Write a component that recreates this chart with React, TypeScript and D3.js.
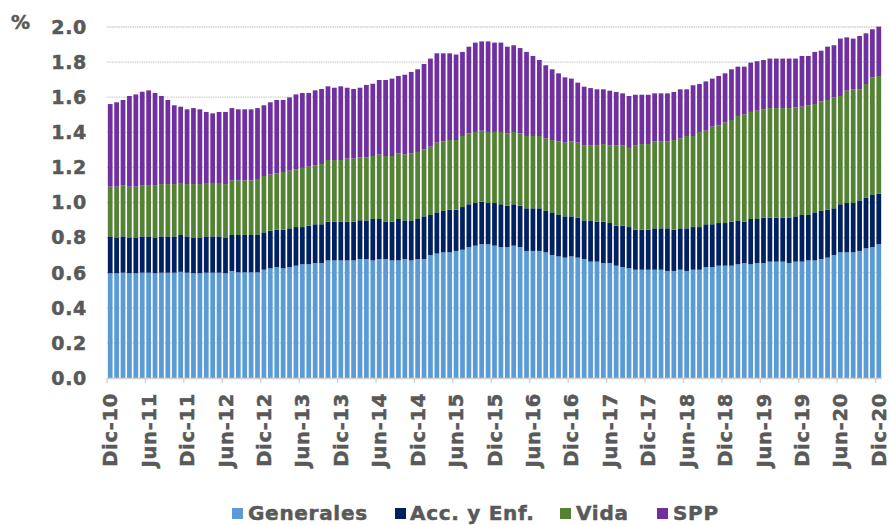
import React from "react";
import * as d3 from "d3";

const generales = [
  0.597, 0.597, 0.600, 0.597, 0.597, 0.600, 0.600, 0.597, 0.600, 0.600, 0.600, 0.605, 0.600, 0.597, 0.597, 0.600, 0.600, 0.600, 0.597, 0.610,
  0.602, 0.602, 0.602, 0.602, 0.617, 0.625, 0.632, 0.625, 0.632, 0.640, 0.648, 0.648, 0.655, 0.655, 0.670, 0.670, 0.670, 0.670, 0.670, 0.678,
  0.678, 0.670, 0.678, 0.678, 0.670, 0.670, 0.678, 0.670, 0.678, 0.678, 0.701, 0.709, 0.716, 0.716, 0.724, 0.731, 0.746, 0.754, 0.762, 0.762,
  0.754, 0.746, 0.746, 0.754, 0.746, 0.724, 0.724, 0.724, 0.716, 0.701, 0.693, 0.686, 0.693, 0.686, 0.678, 0.663, 0.663, 0.655, 0.655, 0.640,
  0.632, 0.625, 0.617, 0.617, 0.617, 0.617, 0.617, 0.610, 0.610, 0.617, 0.610, 0.617, 0.617, 0.632, 0.632, 0.640, 0.640, 0.640, 0.648, 0.655,
  0.648, 0.655, 0.655, 0.663, 0.663, 0.663, 0.655, 0.663, 0.663, 0.670, 0.670, 0.678, 0.686, 0.701, 0.716, 0.716, 0.716, 0.724, 0.739, 0.746, 0.762,
];

const accEnf = [
  0.210, 0.204, 0.207, 0.204, 0.204, 0.207, 0.207, 0.204, 0.207, 0.207, 0.207, 0.210, 0.207, 0.204, 0.204, 0.207, 0.207, 0.207, 0.204, 0.205,
  0.213, 0.213, 0.213, 0.213, 0.213, 0.214, 0.213, 0.220, 0.221, 0.220, 0.212, 0.220, 0.221, 0.221, 0.221, 0.221, 0.221, 0.221, 0.221, 0.221,
  0.220, 0.236, 0.228, 0.213, 0.221, 0.236, 0.220, 0.228, 0.228, 0.243, 0.228, 0.235, 0.236, 0.243, 0.235, 0.243, 0.244, 0.243, 0.243, 0.235,
  0.243, 0.244, 0.236, 0.236, 0.236, 0.243, 0.243, 0.243, 0.236, 0.243, 0.236, 0.235, 0.228, 0.228, 0.220, 0.235, 0.228, 0.236, 0.228, 0.228,
  0.236, 0.235, 0.228, 0.228, 0.228, 0.236, 0.236, 0.243, 0.235, 0.236, 0.243, 0.243, 0.243, 0.244, 0.244, 0.243, 0.243, 0.251, 0.250, 0.236,
  0.258, 0.251, 0.259, 0.251, 0.251, 0.251, 0.259, 0.258, 0.266, 0.259, 0.274, 0.274, 0.273, 0.266, 0.274, 0.281, 0.281, 0.288, 0.289, 0.297, 0.288,
];

const vida = [
  0.283, 0.289, 0.289, 0.289, 0.289, 0.289, 0.289, 0.295, 0.298, 0.298, 0.298, 0.296, 0.298, 0.304, 0.304, 0.304, 0.304, 0.304, 0.304, 0.311,
  0.311, 0.311, 0.311, 0.319, 0.321, 0.320, 0.321, 0.329, 0.328, 0.329, 0.337, 0.336, 0.336, 0.343, 0.351, 0.351, 0.351, 0.359, 0.359, 0.358,
  0.359, 0.359, 0.367, 0.374, 0.374, 0.374, 0.375, 0.382, 0.382, 0.382, 0.389, 0.397, 0.397, 0.397, 0.397, 0.405, 0.404, 0.405, 0.404, 0.405,
  0.405, 0.412, 0.412, 0.412, 0.412, 0.412, 0.412, 0.412, 0.412, 0.412, 0.420, 0.420, 0.428, 0.427, 0.428, 0.428, 0.435, 0.442, 0.443, 0.458,
  0.458, 0.451, 0.481, 0.488, 0.488, 0.496, 0.496, 0.496, 0.511, 0.511, 0.526, 0.519, 0.542, 0.533, 0.556, 0.557, 0.572, 0.579, 0.595, 0.610,
  0.610, 0.617, 0.617, 0.624, 0.624, 0.624, 0.624, 0.621, 0.617, 0.625, 0.617, 0.624, 0.625, 0.632, 0.617, 0.640, 0.648, 0.633, 0.647, 0.670, 0.671,
];

const spp = [
  0.471, 0.481, 0.488, 0.517, 0.526, 0.535, 0.543, 0.528, 0.502, 0.479, 0.449, 0.435, 0.426, 0.433, 0.426, 0.405, 0.397, 0.405, 0.411, 0.412,
  0.405, 0.405, 0.405, 0.404, 0.403, 0.412, 0.418, 0.410, 0.418, 0.427, 0.427, 0.420, 0.427, 0.428, 0.420, 0.412, 0.420, 0.404, 0.397, 0.397,
  0.413, 0.412, 0.425, 0.433, 0.441, 0.441, 0.455, 0.464, 0.471, 0.486, 0.502, 0.509, 0.501, 0.494, 0.487, 0.479, 0.494, 0.509, 0.509, 0.516,
  0.509, 0.509, 0.494, 0.494, 0.486, 0.479, 0.456, 0.433, 0.418, 0.403, 0.387, 0.372, 0.357, 0.342, 0.334, 0.326, 0.319, 0.312, 0.311, 0.304,
  0.296, 0.296, 0.288, 0.281, 0.281, 0.273, 0.273, 0.273, 0.274, 0.281, 0.266, 0.289, 0.273, 0.281, 0.274, 0.281, 0.281, 0.289, 0.281, 0.273,
  0.281, 0.282, 0.281, 0.282, 0.282, 0.282, 0.282, 0.278, 0.289, 0.281, 0.297, 0.289, 0.304, 0.297, 0.327, 0.304, 0.289, 0.304, 0.289, 0.274, 0.281,
];

const monthNames = ["Ene", "Feb", "Mar", "Abr", "May", "Jun", "Jul", "Ago", "Sep", "Oct", "Nov", "Dic"];
// Months from Dic-10 to Dic-20
const categories = d3.range(121).map((i) => {
  const m = (11 + i) % 12;
  const y = 10 + Math.floor((11 + i) / 12);
  return `${monthNames[m]}-${y}`;
});

const seriesNames = ["Generales", "Acc. y Enf.", "Vida", "SPP"];
const seriesColors = ["#5B9BD5", "#002060", "#548235", "#7030A0"];
const yTicks = [0, 0.2, 0.4, 0.6, 0.8, 1.0, 1.2, 1.4, 1.6, 1.8, 2.0];

const W = 890;
const H = 525;
const FONT = "'DejaVu Sans', sans-serif";
const TEXT = "#595959";

export default function App() {
  const left = 107;
  const right = 882;
  const top = 27;
  const bottom = 378;

  const x = d3
    .scaleBand<number>()
    .domain(d3.range(categories.length))
    .range([left, right])
    .paddingInner(0.26)
    .paddingOuter(0.13);
  const y = d3.scaleLinear().domain([0, 2]).range([bottom, top]);

  const rows = categories.map((c, i) => ({
    i,
    Generales: generales[i],
    "Acc. y Enf.": accEnf[i],
    Vida: vida[i],
    SPP: spp[i],
  }));
  const stacked = d3.stack<any>().keys(seriesNames)(rows);

  const step = x.step();
  const tickIdx = d3.range(0, categories.length, 6);

  const legendItems = [
    { name: seriesNames[0], sx: 232, tx: 248 },
    { name: seriesNames[1], sx: 395, tx: 410 },
    { name: seriesNames[2], sx: 560, tx: 576 },
    { name: seriesNames[3], sx: 657, tx: 673 },
  ];

  const textStyle = {
    fontWeight: "bold" as const,
    fill: TEXT,
    stroke: TEXT,
    strokeWidth: 0.5,
    letterSpacing: 0.7,
  };

  return (
    <svg
      width={W}
      height={H}
      style={{ position: "absolute", left: 0, top: 0, background: "#fff" }}
      fontFamily={FONT}
    >
      {yTicks.slice(1).map((t) => (
        <line
          key={t}
          x1={left}
          x2={right}
          y1={y(t)}
          y2={y(t)}
          stroke="#d0d0d0"
          strokeWidth={1.3}
          strokeDasharray="1.5 0.8"
        />
      ))}
      {stacked.map((s, si) => (
        <g key={s.key} fill={seriesColors[si]}>
          {s.map((d, i) => (
            <rect
              key={i}
              x={x(i)}
              width={x.bandwidth()}
              y={y(d[1])}
              height={Math.max(0, y(d[0]) - y(d[1]))}
            />
          ))}
        </g>
      ))}
      <line x1={left} x2={right} y1={bottom + 0.5} y2={bottom + 0.5} stroke="#d0d0d0" strokeWidth={1.3} />
      {tickIdx.map((i) => (
        <line
          key={i}
          x1={left + i * step}
          x2={left + i * step}
          y1={bottom}
          y2={bottom + 5}
          stroke="#d0d0d0"
          strokeWidth={1.3}
        />
      ))}
      {yTicks.map((t) => (
        <text key={t} x={87} y={y(t)} dy="0.36em" textAnchor="end" fontSize={19} {...textStyle}>
          {d3.format(".1f")(t)}
        </text>
      ))}
      <text x={11} y={29} fontSize={19} {...textStyle} letterSpacing={0}>
        %
      </text>
      {tickIdx.map((i) => (
        <text
          key={i}
          transform={`translate(${(x(i) as number) + x.bandwidth() / 2},393) rotate(-90)`}
          textAnchor="end"
          dy="0.36em"
          fontSize={19.5}
          {...textStyle}
        >
          {categories[i]}
        </text>
      ))}
      {legendItems.map((it, k) => (
        <g key={it.name}>
          <rect x={it.sx} y={508} width={11} height={11} fill={seriesColors[k]} />
          <text x={it.tx} y={520} fontSize={20} {...textStyle}>
            {it.name}
          </text>
        </g>
      ))}
    </svg>
  );
}
